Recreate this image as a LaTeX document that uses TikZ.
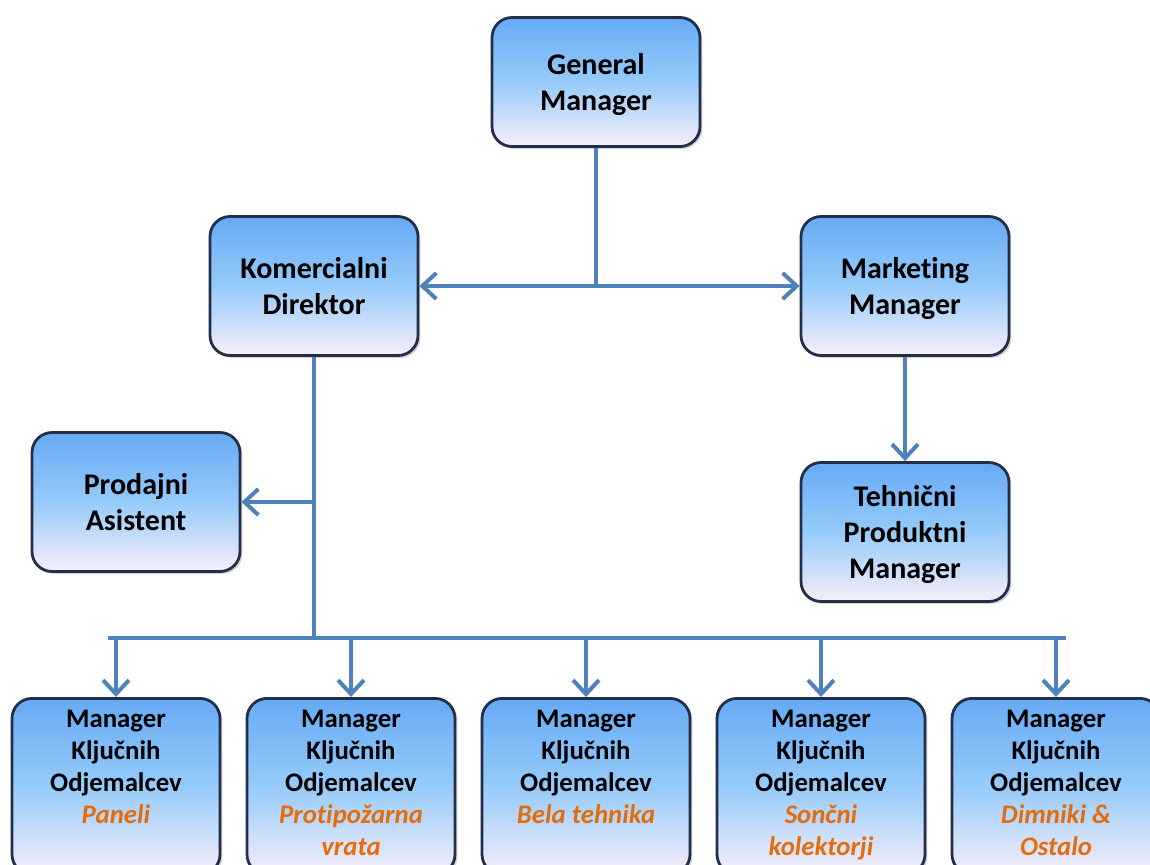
\documentclass[tikz,border=0pt]{standalone}
\usepackage{fontspec}
\setmainfont[Ligatures={NoCommon,NoContextual}, RawFeature={-liga;-clig;-dlig;-calt}]{Carlito}
\usetikzlibrary{arrows.meta,positioning,shadows}

\definecolor{lineblue}{RGB}{79,129,189}
\definecolor{boxedge}{RGB}{34,46,74}
\definecolor{boxtop}{RGB}{102,170,245}
\definecolor{boxmid}{RGB}{150,203,250}
\definecolor{boxbot}{RGB}{247,239,249}
\definecolor{prodorange}{RGB}{228,108,10}

\begin{document}
\begin{tikzpicture}[x=0.5pt, y=-0.5pt,
  box/.style={draw=boxedge, line width=1.4pt, rounded corners=10pt, minimum width=104pt, minimum height=69.5pt, align=center,
    top color=boxtop, bottom color=boxbot, middle color=boxmid,
    drop shadow={shadow xshift=1.2pt, shadow yshift=-1.2pt, opacity=0.35},
    text depth=0pt, font=\fontsize{15}{18}\selectfont\bfseries},
  kbox/.style={box, anchor=north, inner sep=0pt, text depth=, font=\fontsize{13.4}{16}\selectfont\bfseries},
  conn/.style={draw=lineblue, line width=2pt},
  arr/.style={conn, -{Straight Barb[length=7pt, width=13pt]}}
]
\useasboundingbox (0,0) rectangle (1150,864);
\clip (0,0) rectangle (1150,864);

\node[box, minimum height=64.5pt] (gm) at (596,82) {General\\Manager};
\node[box] (kd) at (314,286) {Komercialni\\Direktor};
\node[box] (mm) at (905,286) {Marketing\\Manager};
\node[box] (pa) at (136,502) {Prodajni\\Asistent};
\node[box] (tpm) at (905,532) {Tehnični\\Produktni\\Manager};

% key account managers
\foreach \x/\lbl [count=\i] in {116/Paneli, 351/{Protipožarna\\vrata}, 586/{Bela tehnika}, 821/{Sončni\\kolektorji}, 1056/{Dimniki \&\\Ostalo}}
  \node[kbox] (k\i) at (\x,697) {\parbox[t][88pt][t]{100pt}{\centering\vspace{6pt}Manager\\Ključnih\\Odjemalcev\\{\color{prodorange}\itshape \lbl}}};

\coordinate (busL) at (108,638);
\coordinate (busR) at (1066,638);

\draw[conn, {Straight Barb[length=7pt, width=13pt]}-{Straight Barb[length=7pt, width=13pt]}] (kd.east) -- (mm.west);
\draw[conn] (gm.south) -- (gm.south |- kd.east);
\draw[arr] (mm.south) -- (tpm.north);
\draw[conn] (kd.south) -- (kd.south |- busL);
\draw[arr] (kd.south |- pa.east) -- (pa.east);
\draw[conn] (busL) -- (busR);
\foreach \i in {1,...,5}
  \draw[arr] (k\i.north |- busL) -- (k\i.north);
\end{tikzpicture}
\end{document}
